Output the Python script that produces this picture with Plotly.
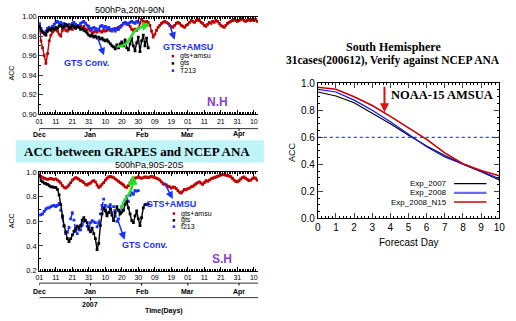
import plotly.graph_objects as go

W, H = 516, 321
def px(x): return x / W
def py(y): return 1 - y / H

# ---------------- data ----------------
# days since 01 Dec 2006
nh_red = [
0.993, 0.975, 0.968, 0.960, 0.952, 0.962, 0.975, 0.981, 0.984, 0.986,
0.987, 0.985, 0.982, 0.980, 0.986, 0.989, 0.986, 0.985, 0.987, 0.988,
0.987, 0.989, 0.990, 0.991, 0.989, 0.990, 0.988, 0.990, 0.987, 0.986,
0.988, 0.986, 0.983, 0.984, 0.985, 0.984, 0.986, 0.985, 0.984, 0.986,
0.985, 0.986, 0.987, 0.986, 0.985, 0.987, 0.988, 0.987, 0.989, 0.990,
0.991, 0.993, 0.994, 0.993, 0.992, 0.990, 0.987, 0.986, 0.987, 0.986,
0.988, 0.993, 0.997, 0.995, 0.994, 0.995, 0.994, 0.991, 0.985, 0.979,
0.982, 0.986, 0.989, 0.991, 0.993, 0.994, 0.995, 0.994, 0.993, 0.991,
0.990, 0.989, 0.991, 0.993, 0.994, 0.993, 0.991, 0.990, 0.989, 0.991,
0.992, 0.994, 0.996, 0.995, 0.994, 0.996, 0.997, 0.996, 0.994, 0.993,
0.991, 0.990, 0.992, 0.994, 0.993, 0.995, 0.994, 0.996, 0.995, 0.993,
0.991, 0.990, 0.989, 0.991, 0.993, 0.994, 0.995, 0.996, 0.997, 0.996,
0.995, 0.996, 0.997, 0.998, 0.996, 0.995, 0.996, 0.997, 0.996, 0.997,
0.996, 0.997, 0.995]
nh_gts = [
0.990, 0.986, 0.984, 0.983, 0.981, 0.985, 0.987, 0.986, 0.988, 0.987,
0.989, 0.988, 0.990, 0.991, 0.989, 0.990, 0.992, 0.991, 0.988, 0.989,
0.991, 0.990, 0.988, 0.990, 0.989, 0.987, 0.988, 0.986, 0.985, 0.983,
0.981, 0.980, 0.981, 0.979, 0.980, 0.978, 0.979, 0.977, 0.978, 0.976,
0.975, 0.976, 0.974, 0.972, 0.970, 0.969, 0.967, 0.971, 0.968, 0.972,
0.974, 0.970, 0.976, 0.968, 0.966, 0.972, 0.978, 0.970, 0.965, 0.973,
0.979, 0.964, 0.975, 0.981, 0.970, 0.978, 0.968]
nh_t213 = [
0.992, 0.988, 0.984, 0.982, 0.985, 0.988, 0.989, 0.987, 0.990, 0.992,
0.994, 0.995, 0.993, 0.994, 0.992, 0.993, 0.991, 0.990, 0.992, 0.991,
0.993, 0.994, 0.992, 0.990, 0.991, 0.993, 0.994, 0.995, 0.993, 0.991,
0.990, 0.988, 0.987, 0.989, 0.988, 0.986, 0.987, 0.990, 0.991, 0.989,
0.990, 0.988, 0.989, 0.987, 0.986, 0.987, 0.985, 0.988, 0.987, 0.989,
0.991, 0.993, 0.994, 0.992, 0.993, 0.994, 0.995, 0.994, 0.993, 0.995,
0.994]

sh_red = [
0.985, 0.965, 0.955, 0.950, 0.945, 0.940, 0.945, 0.948, 0.943, 0.940,
0.945, 0.935, 0.925, 0.910, 0.890, 0.875, 0.870, 0.880, 0.895, 0.915,
0.935, 0.945, 0.955, 0.950, 0.940, 0.930, 0.925, 0.915, 0.900, 0.895,
0.905, 0.910, 0.925, 0.930, 0.920, 0.895, 0.875, 0.885, 0.900, 0.915,
0.935, 0.950, 0.960, 0.965, 0.960, 0.955, 0.945, 0.935, 0.925, 0.915,
0.905, 0.895, 0.880, 0.875, 0.890, 0.915, 0.935, 0.945, 0.950, 0.955,
0.960, 0.955, 0.950, 0.955, 0.960, 0.958, 0.955, 0.960, 0.965, 0.960,
0.955, 0.950, 0.945, 0.935, 0.920, 0.905, 0.900, 0.895, 0.885, 0.880,
0.870, 0.880, 0.875, 0.865, 0.850, 0.835, 0.830, 0.845, 0.860, 0.855,
0.865, 0.870, 0.880, 0.885, 0.895, 0.905, 0.915, 0.920, 0.910, 0.900,
0.915, 0.930, 0.925, 0.935, 0.945, 0.950, 0.955, 0.960, 0.965, 0.970,
0.975, 0.980, 0.978, 0.975, 0.972, 0.968, 0.962, 0.950, 0.935, 0.925,
0.920, 0.930, 0.945, 0.955, 0.960, 0.950, 0.940, 0.930, 0.935, 0.945,
0.955, 0.950, 0.935]
sh_gts = [
0.970, 0.930, 0.920, 0.910, 0.905, 0.900, 0.890, 0.880, 0.880, 0.875,
0.875, 0.860, 0.815, 0.735, 0.645, 0.565, 0.515, 0.460, 0.435, 0.460,
0.490, 0.520, 0.540, 0.560, 0.545, 0.565, 0.610, 0.630, 0.605, 0.590,
0.540, 0.515, 0.545, 0.500, 0.460, 0.370, 0.420, 0.565, 0.660, 0.710,
0.685, 0.645, 0.670, 0.700, 0.650, 0.605, 0.670, 0.720, 0.690, 0.660,
0.675, 0.690, 0.735, 0.760, 0.710, 0.660, 0.605, 0.590, 0.645, 0.685,
0.620, 0.565, 0.630, 0.710, 0.735, 0.735, 0.740]
sh_t213 = [
0.650, 0.655, 0.660, 0.680, 0.700, 0.710, 0.710, 0.720, 0.725, 0.730,
0.720, 0.730, 0.745, 0.690, 0.630, 0.560, 0.500, 0.510, 0.550, 0.620,
0.670, 0.610, 0.520, 0.500, 0.530, 0.530, 0.570, 0.600, 0.605, 0.560,
0.530, 0.590, 0.605, 0.595, 0.590, 0.555, 0.590, 0.660, 0.730, 0.780,
0.730, 0.660, 0.720, 0.735, 0.670, 0.720, 0.645, 0.600, 0.620, 0.670,
0.720, 0.745, 0.770, 0.800, 0.760, 0.810, 0.830, 0.820, 0.850, 0.845,
0.850]

tick_days = [0, 10, 20, 30, 40, 50, 60, 70, 80, 90, 100, 110, 120, 130]
tick_text = ["01", "11", "21", "31", "10", "20", "30", "09", "19", "01", "11", "21", "31", "10"]
month_days = [0, 31, 62, 90, 121]
month_names = ["Dec", "Jan", "Feb", "Mar", "Apr"]

fc_days = [0, 1, 2, 3, 4, 5, 6, 7, 8, 9, 10]
exp_2007 = [0.935, 0.905, 0.855, 0.780, 0.700, 0.615, 0.535, 0.465, 0.400, 0.345, 0.285]
exp_2008 = [0.955, 0.935, 0.875, 0.800, 0.715, 0.620, 0.530, 0.455, 0.400, 0.350, 0.295]
exp_2008_n15 = [0.970, 0.955, 0.900, 0.835, 0.755, 0.670, 0.585, 0.485, 0.405, 0.355, 0.315]

RED = "#c00000"
BLUE = "#1830ff"
BLK = "#000000"

fig = go.Figure()

def ts(y, color, xa, ya, dash="solid", width=1.4):
    fig.add_trace(go.Scatter(x=list(range(len(y))), y=y, mode="lines+markers",
                             line=dict(color=color, width=width, dash=dash),
                             marker=dict(size=2.8, symbol="square", color=color),
                             xaxis=xa, yaxis=ya, showlegend=False, hoverinfo="skip"))

ts(nh_red, RED, "x", "y")
ts(nh_t213, BLUE, "x", "y", width=1.8)
ts(nh_gts, BLK, "x", "y")
ts(sh_red, RED, "x2", "y2")
ts(sh_t213, BLUE, "x2", "y2", dash="dash", width=1.5)
ts(sh_gts, BLK, "x2", "y2")

for yv, c, w in [(exp_2007, BLK, 1.1), (exp_2008, "#1010ff", 1.2), (exp_2008_n15, "#cc0000", 1.6)]:
    fig.add_trace(go.Scatter(x=fc_days, y=yv, mode="lines", line=dict(color=c, width=w),
                             xaxis="x3", yaxis="y3", showlegend=False, hoverinfo="skip"))

tsx = dict(range=[0, 132.5], tickvals=tick_days, ticktext=tick_text, ticks="inside", ticklen=4,
           tickcolor="black", showline=True, linecolor="black", linewidth=1, mirror="ticks",
           minor=dict(ticks="inside", ticklen=2, dtick=1, tick0=0, tickcolor="black"),
           showgrid=False, zeroline=False, tickfont=dict(family="Liberation Sans", size=7, color="black"))
fig.update_layout(
    width=W, height=H, margin=dict(l=0, r=0, t=0, b=0),
    paper_bgcolor="white", plot_bgcolor="white",
    xaxis=dict(domain=[px(36), px(259)], anchor="y", **tsx),
    yaxis=dict(domain=[py(113), py(12)], anchor="x", range=[0.90, 1.0], dtick=0.02, tickformat=".2f",
               ticks="inside", ticklen=4, showline=True, linecolor="black", linewidth=1,
               minor=dict(ticks="inside", ticklen=2, dtick=0.01, tickcolor="black"),
               showgrid=False, zeroline=False, tickfont=dict(family="Liberation Sans", size=7.5, color="black")),
    xaxis2=dict(domain=[px(36), px(259)], anchor="y2", **tsx),
    yaxis2=dict(domain=[py(275), py(173)], anchor="x2", range=[0.2, 1.0], dtick=0.2, tickformat=".1f",
                ticks="inside", ticklen=4, showline=True, linecolor="black", linewidth=1,
                minor=dict(ticks="inside", ticklen=2, dtick=0.1, tickcolor="black"),
                showgrid=False, zeroline=False, tickfont=dict(family="Liberation Sans", size=7.5, color="black")),
    xaxis3=dict(domain=[px(320), px(505)], anchor="y3", range=[0, 10], dtick=1, ticks="inside", ticklen=5,
                showline=True, linecolor="black", linewidth=1, mirror="ticks",
                minor=dict(ticks="inside", ticklen=2, dtick=0.2, tickcolor="black"),
                showgrid=False, zeroline=False, tickfont=dict(family="Liberation Sans", size=10, color="black")),
    yaxis3=dict(domain=[py(221), py(81)], anchor="x3", range=[0, 1.0], dtick=0.2, tickformat=".1f",
                ticks="inside", ticklen=5, showline=True, linecolor="black", linewidth=1, mirror="ticks",
                minor=dict(ticks="inside", ticklen=2, dtick=0.05, tickcolor="black"),
                showgrid=False, zeroline=False, tickfont=dict(family="Liberation Sans", size=10, color="black")),
)

shapes = []
ann = []

def text(x, y, t, size=8, color="black", family="Liberation Sans", bold=False, anchor="center", angle=0):
    ann.append(dict(x=px(x), y=py(y), xref="paper", yref="paper", text=(f"<b>{t}</b>" if bold else t),
                    showarrow=False, xanchor=anchor, yanchor="middle", textangle=angle,
                    font=dict(size=size, color=color, family=family)))

def arrow(x0, y0, x1, y1, color=BLUE, width=1.5, head=2, size=1.0):
    ann.append(dict(x=px(x1), y=py(y1), xref="paper", yref="paper", ax=x0 - x1, ay=y0 - y1,
                    axref="pixel", ayref="pixel", showarrow=True, arrowhead=head, arrowsize=size,
                    arrowwidth=width, arrowcolor=color, text=""))

# cyan band
shapes.append(dict(type="rect", xref="paper", yref="paper", x0=px(12), x1=px(265), y0=py(163), y1=py(140),
                   fillcolor="#bff4f9", line=dict(width=0), layer="below"))
text(136, 152, "ACC between GRAPES and NCEP ANA", size=13, family="Liberation Serif", bold=True)

# panel titles
text(128, 5, "500hPa,20N-90N", size=9)
text(148, 166, "500hPa,90S-20S", size=9)
text(8, 70, "ACC", size=7, angle=-90)
text(8, 223, "ACC", size=7, angle=-90)

# month rows
for d, m in zip(month_days, month_names):
    ann.append(dict(x=d, y=py(134), xref="x", yref="paper", text=f"<b>{m}</b>", showarrow=False,
                    yanchor="middle", font=dict(size=7, family="Liberation Sans", color="black")))
    ann.append(dict(x=d, y=py(297), xref="x2", yref="paper", text=f"<b>{m}</b>", showarrow=False,
                    yanchor="middle", font=dict(size=7, family="Liberation Sans", color="black")))
    shapes.append(dict(type="line", xref="x", yref="paper", x0=d, x1=d, y0=py(128), y1=py(130.5),
                       line=dict(color="black", width=1)))
    shapes.append(dict(type="line", xref="x2", yref="paper", x0=d, x1=d, y0=py(288), y1=py(290.5),
                       line=dict(color="black", width=1)))
shapes.append(dict(type="line", xref="x", yref="paper", x0=0, x1=132.5, y0=py(128), y1=py(128),
                   line=dict(color="black", width=0.8)))
shapes.append(dict(type="line", xref="x2", yref="paper", x0=0, x1=132.5, y0=py(288), y1=py(288),
                   line=dict(color="black", width=0.8)))
shapes.append(dict(type="line", xref="x2", yref="paper", x0=0, x1=132.5, y0=py(303), y1=py(303),
                   line=dict(color="black", width=0.8)))
shapes.append(dict(type="line", xref="x2", yref="paper", x0=31, x1=31, y0=py(303), y1=py(306),
                   line=dict(color="black", width=1)))
ann.append(dict(x=31, y=py(310.5), xref="x2", yref="paper", text="<b>2007</b>", showarrow=False,
                yanchor="middle", font=dict(size=7, family="Liberation Sans", color="black")))
text(163, 316.5, "<b>Time(Days)</b>", size=7)

# in-plot legends
for (yy, lab, c) in [(53, "gts+amsu", RED), (60.5, "gts", BLK), (68, "T213", BLUE)]:
    shapes.append(dict(type="rect", xref="paper", yref="paper", x0=px(171), x1=px(173.5), y0=py(yy + 1.3),
                       y1=py(yy - 1.3), fillcolor=c, line=dict(width=0)))
    text(177, yy, lab, size=7, anchor="left")
for (yy, lab, c) in [(216, "gts+amsu", RED), (223, "gts", BLK), (229.5, "f213", BLUE)]:
    shapes.append(dict(type="rect", xref="paper", yref="paper", x0=px(172), x1=px(174.5), y0=py(yy + 1.3),
                       y1=py(yy - 1.3), fillcolor=c, line=dict(width=0)))
    text(178, yy, lab, size=7, anchor="left")

# annotations NH
text(84, 60, "GTS Conv.", size=9, color=BLUE, bold=True)
arrow(95, 33, 102, 52)
text(188, 43, "GTS+AMSU", size=9, color=BLUE, bold=True)
arrow(168, 18, 174, 36)
text(218, 100, "N.H", size=12, color="#8a3fd0", bold=True)
# annotations SH
text(143, 248, "GTS Conv.", size=9, color=BLUE, bold=True)
arrow(115, 220, 123, 243)
text(170, 206.5, "GTS+AMSU", size=9, color=BLUE, bold=True)
arrow(163, 183, 172, 201)
text(222, 263, "S.H", size=12, color="#8a3fd0", bold=True)

# green curved arrows
def P(x, y): return f"{px(x):.5f},{py(y):.5f}"
GREEN = "#22e022"
shapes.append(dict(type="path", xref="paper", yref="paper",
                   path=f"M {P(115,43)} C {P(131,44)} {P(127,24)} {P(143,22)}",
                   line=dict(color=GREEN, width=2.5)))
shapes.append(dict(type="path", xref="paper", yref="paper",
                   path=f"M {P(148,20.5)} L {P(141,18)} L {P(142,26)} Z",
                   fillcolor=GREEN, line=dict(color=GREEN, width=1)))
shapes.append(dict(type="path", xref="paper", yref="paper",
                   path=f"M {P(120,211)} C {P(121,198)} {P(130,200)} {P(131,184)}",
                   line=dict(color=GREEN, width=2.5)))
shapes.append(dict(type="path", xref="paper", yref="paper",
                   path=f"M {P(131.5,177)} L {P(127,186)} L {P(135.5,185.5)} Z",
                   fillcolor=GREEN, line=dict(color=GREEN, width=1)))

# right panel
text(397, 43, "South Hemisphere", size=12, family="Liberation Serif", bold=True)
text(397, 57, "31cases(200612), Verify against NCEP ANA", size=11.5, family="Liberation Serif", bold=True)
text(447, 93, "NOAA-15 AMSUA", size=12.5, family="Liberation Serif", bold=True)
arrow(388, 84, 388, 111, color="#e01010", width=2, head=2, size=0.9)
text(293, 152, "ACC", size=9, angle=-90)
text(412, 246, "Forecast Day", size=10)
shapes.append(dict(type="line", xref="x3", yref="y3", x0=0, x1=10, y0=0.6, y1=0.6,
                   line=dict(color="#1010ff", width=1, dash="dot")))
for (yy, lab, c, w) in [(185, "Exp_2007", BLK, 1.2), (194.5, "Exp_2008", "#6a6aff", 2.2), (204, "Exp_2008_N15", "#cc0000", 1.6)]:
    text(454, yy, lab, size=8, anchor="right")
    shapes.append(dict(type="line", xref="paper", yref="paper", x0=px(459), x1=px(492), y0=py(yy), y1=py(yy),
                       line=dict(color=c, width=w)))

fig.update_layout(shapes=shapes, annotations=ann)
fig.write_html("out.html", config={"displayModeBar": False, "staticPlot": True},
               post_script="document.body.style.margin='0';document.body.style.overflow='hidden';")
